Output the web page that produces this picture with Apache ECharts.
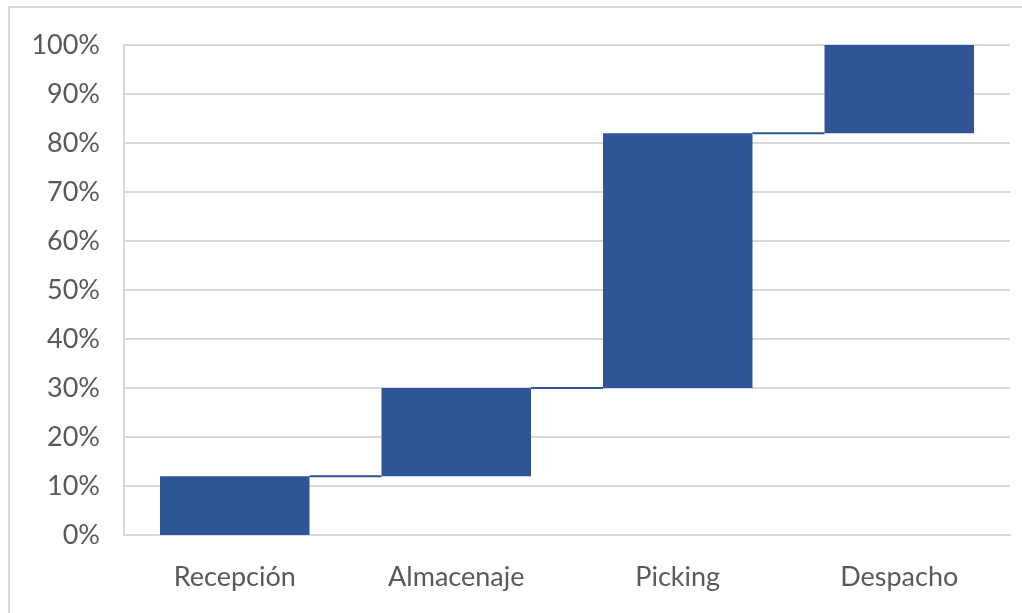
<!DOCTYPE html>
<html>
<head>
<meta charset="utf-8">
<script src="https://cdn.jsdelivr.net/npm/echarts@6/dist/echarts.min.js"></script>
<style>
html,body{margin:0;padding:0;background:#fff;}
#chart{width:1022px;height:613px;}
</style>
</head>
<body>
<div id="chart"></div>
<script>
const categories = ['Recepción', 'Almacenaje', 'Picking', 'Despacho'];
const stepValues = [12, 18, 52, 18];
const yTicks = [0, 10, 20, 30, 40, 50, 60, 70, 80, 90, 100];

const bases = [];
const tops = [];
let acc = 0;
for (let i = 0; i < stepValues.length; i++) {
  bases.push(acc);
  acc += stepValues[i];
  tops.push(acc);
}

const chart = echarts.init(document.getElementById('chart'), null, {renderer: 'canvas'});
const fontFamily = 'Lato, "Open Sans", sans-serif';
const barColor = '#2F5597';
const barWidthRatio = 0.675;

chart.setOption({
  animation: false,
  backgroundColor: '#fff',
  graphic: [{
    type: 'polyline',
    shape: {points: [[9, 613], [9, 7], [1022, 7]]},
    style: {stroke: '#d9d9d9', lineWidth: 2, fill: null},
    silent: true
  }],
  grid: {left: 124, right: 12, top: 45, bottom: 78, containLabel: false},
  xAxis: {
    type: 'category',
    data: categories,
    axisTick: {show: false},
    axisLine: {show: true, lineStyle: {color: '#d9d9d9', width: 2}},
    axisLabel: {color: '#595959', fontSize: 27, fontFamily: fontFamily, margin: 29}
  },
  yAxis: {
    type: 'value',
    min: yTicks[0],
    max: yTicks[yTicks.length - 1],
    interval: 10,
    axisLine: {show: true, lineStyle: {color: '#d9d9d9', width: 2}},
    axisTick: {show: false},
    splitLine: {show: true, lineStyle: {color: '#d9d9d9', width: 2}},
    axisLabel: {color: '#595959', fontSize: 27, fontFamily: fontFamily, margin: 24, formatter: '{value}%'}
  },
  series: [
    {
      type: 'bar',
      stack: 'w',
      data: bases,
      itemStyle: {color: 'transparent'},
      barWidth: (barWidthRatio * 100) + '%',
      silent: true
    },
    {
      type: 'bar',
      stack: 'w',
      data: stepValues,
      itemStyle: {color: barColor},
      barWidth: (barWidthRatio * 100) + '%'
    },
    {
      type: 'custom',
      data: tops.slice(0, tops.length - 1).map((v, i) => [i, v]),
      renderItem: function (params, api) {
        const i = api.value(0);
        const v = api.value(1);
        const p1 = api.coord([i, v]);
        const p2 = api.coord([i + 1, v]);
        const bandW = api.size([1, 0])[0];
        const half = bandW * barWidthRatio / 2;
        return {
          type: 'line',
          shape: {x1: p1[0] + half, y1: p1[1], x2: p2[0] - half, y2: p2[1]},
          style: {stroke: barColor, lineWidth: 2}
        };
      },
      z: 3
    }
  ]
});
</script>
</body>
</html>
